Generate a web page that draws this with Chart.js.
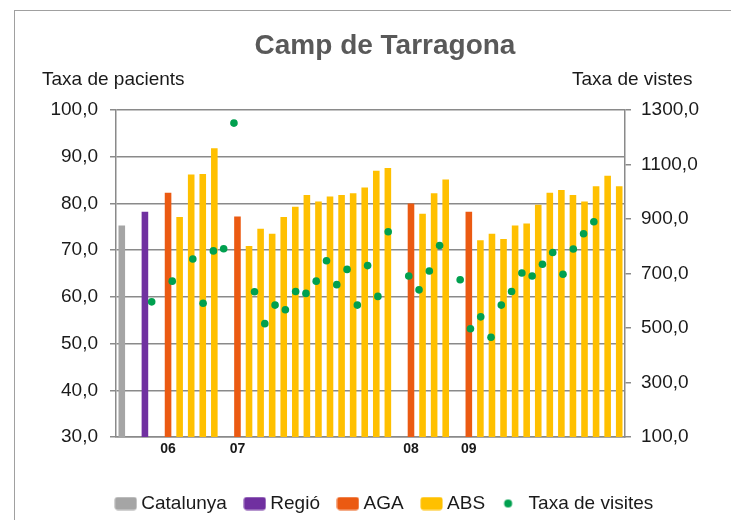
<!DOCTYPE html>
<html>
<head>
<meta charset="utf-8">
<script src="https://cdn.jsdelivr.net/npm/chart.js@4"></script>
<style>
  body { margin: 0; background: #fff; font-family: 'Liberation Sans', Arial, sans-serif; }
  #wrap { position: relative; width: 731px; height: 520px; overflow: hidden; }
  #frame { position: absolute; left: 14px; top: 10px; width: 800px; height: 600px;
           border-left: 1.5px solid #a0a0a0; border-top: 1.5px solid #a0a0a0; }
  #box { position: absolute; left: 0; top: 0; width: 731px; height: 520px; }
  .txt { position: absolute; white-space: nowrap; color: #1a1a1a; font-size: 19px; line-height: 22px; }
  #title { left: 385px; top: 29px; transform: translateX(-50%); font-size: 28px; line-height: 32px;
           font-weight: bold; color: #595959; }
</style>
</head>
<body>
<div id="wrap">
  <div id="frame"></div>
  <div id="box"><canvas id="chart"></canvas></div>
  <div id="title" class="txt">Camp de Tarragona</div>
  <div class="txt" style="left:42px; top:68px;">Taxa de pacients</div>
  <div class="txt" style="left:572px; top:68px;">Taxa de vistes</div>
</div>
<script>
// 44 posicions a l'eix X; els buits són separadors
const labels = ['', '', '', '', '06', '', '', '', '', '', '07', '', '', '', '', '', '', '', '', '', '', '', '', '', '',
  '08', '', '', '', '', '09', '', '', '', '', '', '', '', '', '', '', '', '', ''];

const _ = null;
const catalunya = [75.3, _, _, _, _, _, _, _, _, _, _, _, _, _, _, _, _, _, _, _, _, _, _, _, _, _, _, _, _, _, _, _, _, _, _, _, _, _, _, _, _, _, _, _];
const regio     = [_, _, 78.2, _, _, _, _, _, _, _, _, _, _, _, _, _, _, _, _, _, _, _, _, _, _, _, _, _, _, _, _, _, _, _, _, _, _, _, _, _, _, _, _, _];
const aga       = [_, _, _, _, 82.3, _, _, _, _, _, 77.2, _, _, _, _, _, _, _, _, _, _, _, _, _, _, 80.0, _, _, _, _, 78.2, _, _, _, _, _, _, _, _, _, _, _, _, _];
const abs       = [_, _, _, _, _, 77.1, 86.2, 86.3, 91.8, _, _, 70.9, 74.6, 73.5, 77.1, 79.3, 81.8, 80.4, 81.5, 81.8, 82.2, 83.4, 87.0, 87.6, _,
  _, 77.8, 82.2, 85.1, _, _, 72.1, 73.5, 72.4, 75.3, 75.7, 79.7, 82.3, 82.9, 81.8, 80.4, 83.7, 85.9, 83.7];
const visites   = [596, _, 672, _, 753, 591, 783, 791, 1252, _, 633, 516, 584, 567, 634, 627, 672, 747, 659, 715, 584, 729, 616, 853, _,
  691, 640, 709, 803, _, 677, 497, 541, 466, 584, 634, 702, 691, 734, 777, 697, 790, 846, 890];

const yTicks = { min: 30, max: 100, step: 10 };
const y2Ticks = { min: 100, max: 1300, step: 200 };

const COLORS = { cat: '#a5a5a5', reg: '#7030a0', aga: '#eb5a12', abs: '#ffc000', vis: '#00a04f' };
const GRID = '#8a8a8a';
const INK = '#1a1a1a';
const FONT = "'Liberation Sans', Arial, sans-serif";

Chart.defaults.font.family = FONT;

function boxIcon(color) {
  const c = document.createElement('canvas');
  c.width = 23; c.height = 14;
  const g = c.getContext('2d');
  g.fillStyle = color;
  g.beginPath();
  g.roundRect(0.5, 0.5, 22, 13, 3);
  g.fill();
  return c;
}

function dotIcon(color) {
  const c = document.createElement('canvas');
  c.width = 23; c.height = 14;
  const g = c.getContext('2d');
  g.fillStyle = color;
  g.beginPath();
  g.arc(6.5, 7, 4, 0, Math.PI * 2);
  g.fill();
  return c;
}

const icons = [boxIcon(COLORS.cat), boxIcon(COLORS.reg), boxIcon(COLORS.aga), boxIcon(COLORS.abs), dotIcon(COLORS.vis)];

const comma = v => v.toFixed(1).replace('.', ',');

function barSet(label, data, color) {
  return { label, data, backgroundColor: color, grouped: false, barPercentage: 0.57, categoryPercentage: 1, yAxisID: 'y' };
}

// els punts queden una mica a la dreta de la barra, com a l'original
const SHIFT = 0.22;

new Chart(document.getElementById('chart'), {
  type: 'bar',
  data: {
    labels,
    datasets: [
      barSet('Catalunya', catalunya, COLORS.cat),
      barSet('Regió', regio, COLORS.reg),
      barSet('AGA', aga, COLORS.aga),
      barSet('ABS', abs, COLORS.abs),
      {
        type: 'line',
        label: 'Taxa de visites',
        data: visites.map((v, i) => v === null ? null : { x: i, y: v }).filter(p => p),
        xAxisID: 'x2',
        yAxisID: 'y2',
        showLine: false,
        pointRadius: 3.8,
        pointBackgroundColor: COLORS.vis,
        pointBorderWidth: 0,
        backgroundColor: COLORS.vis,
        order: -1
      }
    ]
  },
  options: {
    responsive: true,
    maintainAspectRatio: false,
    animation: false,
    layout: { padding: { left: 42, right: 0, top: 110, bottom: -3 } },
    plugins: {
      title: { display: false },
      tooltip: { enabled: false },
      legend: {
        position: 'bottom',
        labels: {
          usePointStyle: true,
          pointStyleWidth: 12,
          padding: 22,
          color: INK,
          font: { size: 19 },
          sort: (a, b) => a.datasetIndex - b.datasetIndex,
          generateLabels(chart) {
            const items = Chart.defaults.plugins.legend.labels.generateLabels(chart);
            items.forEach(it => { it.pointStyle = icons[it.datasetIndex]; });
            return items;
          }
        }
      }
    },
    scales: {
      x: {
        grid: { display: false, drawTicks: false },
        border: { display: true, color: GRID, width: 1.5 },
        ticks: { autoSkip: false, maxRotation: 0, padding: 4, color: INK, font: { size: 14, weight: 'bold' } },
        afterFit: s => { s.height = 35; }
      },
      x2: {
        type: 'linear',
        display: false,
        min: -0.5 - SHIFT,
        max: labels.length - 0.5 - SHIFT
      },
      y: {
        position: 'left',
        min: yTicks.min,
        max: yTicks.max,
        ticks: { stepSize: yTicks.step, padding: 12, color: INK, font: { size: 19 }, callback: comma },
        grid: { color: GRID, lineWidth: 1.5, tickLength: 6 },
        border: { color: GRID, width: 1.5 },
        afterFit: s => { s.width = 74; }
      },
      y2: {
        position: 'right',
        min: y2Ticks.min,
        max: y2Ticks.max,
        ticks: { stepSize: y2Ticks.step, padding: 10, color: INK, font: { size: 19 }, callback: comma },
        grid: { drawOnChartArea: false, color: GRID, lineWidth: 1.5, tickLength: 6 },
        border: { color: GRID, width: 1.5 },
        afterFit: s => { s.width = 106; }
      }
    }
  }
});
</script>
</body>
</html>
